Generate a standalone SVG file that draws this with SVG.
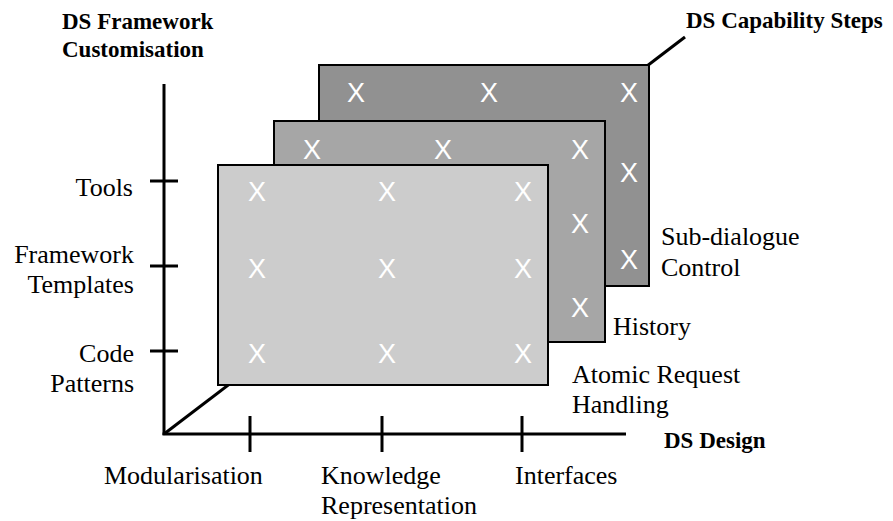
<svg xmlns="http://www.w3.org/2000/svg" width="893" height="521" viewBox="0 0 893 521">
<style>
.ax{stroke:#000;stroke-width:3;fill:none;stroke-linecap:butt}
.pl{stroke:#000;stroke-width:2}
.x{font-size:27px;fill:#fff;text-anchor:middle}
.lb{font-size:26px;fill:#000}
.r{text-anchor:end}
.t{font-size:23px;font-weight:bold;fill:#000}
</style>
<rect width="893" height="521" fill="#fff"/>
<g id="connectors">
<line class="ax" x1="164" y1="434" x2="685" y2="37"/>
<line class="ax" x1="164" y1="84" x2="164" y2="435"/>
<line class="ax" x1="162.5" y1="434" x2="626" y2="434"/>
<line class="ax" x1="150" y1="181" x2="178" y2="181"/>
<line class="ax" x1="150" y1="266" x2="178" y2="266"/>
<line class="ax" x1="150" y1="351" x2="178" y2="351"/>
<line class="ax" x1="250" y1="416" x2="250" y2="452"/>
<line class="ax" x1="382" y1="416" x2="382" y2="452"/>
<line class="ax" x1="522" y1="416" x2="522" y2="452"/>
</g>
<g font-family="Liberation Sans, Arial, sans-serif">
<g id="sub-dialogue-plane">
<rect class="pl" x="319" y="65" width="330" height="221" fill="#919191"/>
<text class="x" x="356" y="102">X</text>
<text class="x" x="489" y="102">X</text>
<text class="x" x="629" y="102">X</text>
<text class="x" x="629" y="182">X</text>
<text class="x" x="629" y="269">X</text>
</g>
<g id="history-plane">
<rect class="pl" x="274" y="121" width="331" height="221" fill="#a6a6a6"/>
<text class="x" x="312" y="159">X</text>
<text class="x" x="443" y="159">X</text>
<text class="x" x="580" y="159">X</text>
<text class="x" x="580" y="233">X</text>
<text class="x" x="580" y="317">X</text>
</g>
<g id="atomic-plane">
<rect class="pl" x="218" y="165" width="330" height="220" fill="#cccccc"/>
<text class="x" x="257" y="201">X</text>
<text class="x" x="387" y="201">X</text>
<text class="x" x="523" y="201">X</text>
<text class="x" x="257" y="278">X</text>
<text class="x" x="387" y="278">X</text>
<text class="x" x="523" y="278">X</text>
<text class="x" x="257" y="363">X</text>
<text class="x" x="387" y="363">X</text>
<text class="x" x="523" y="363">X</text>
</g>
</g>
<g font-family="Liberation Serif, Times New Roman, Times, serif">
<g id="axis-titles">
<text class="t" x="62" y="29">DS Framework</text>
<text class="t" x="62" y="57">Customisation</text>
<text class="t" x="686" y="28">DS Capability Steps</text>
<text class="t" x="664" y="448">DS Design</text>
</g>
<g id="y-labels">
<text class="lb r" x="133" y="196">Tools</text>
<text class="lb r" x="134" y="263">Framework</text>
<text class="lb r" x="134" y="293">Templates</text>
<text class="lb r" x="134" y="362">Code</text>
<text class="lb r" x="134" y="392">Patterns</text>
</g>
<g id="x-labels">
<text class="lb" x="104" y="484">Modularisation</text>
<text class="lb" x="321" y="484">Knowledge</text>
<text class="lb" x="321" y="514">Representation</text>
<text class="lb" x="515" y="484">Interfaces</text>
</g>
<g id="plane-labels">
<text class="lb" x="661" y="245">Sub-dialogue</text>
<text class="lb" x="661" y="276">Control</text>
<text class="lb" x="613" y="335">History</text>
<text class="lb" x="572" y="383">Atomic Request</text>
<text class="lb" x="572" y="413">Handling</text>
</g>
</g>
</svg>
